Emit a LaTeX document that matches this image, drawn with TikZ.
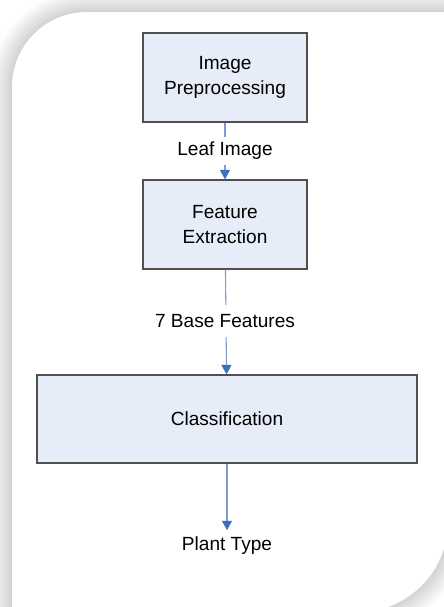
\documentclass[tikz,border=0pt]{standalone}
\usepackage{fontspec}
\setmainfont{Liberation Sans}
\usetikzlibrary{arrows.meta}
\definecolor{boxfill}{HTML}{E7EDF8}
\definecolor{boxline}{HTML}{505050}
\definecolor{flowline}{HTML}{7A9CD0}
\definecolor{flowtip}{HTML}{3E6FBF}
% outline of the white card (it runs out past the right and bottom edges)
\newcommand{\cardpath}{(12,640) -- (12,87) arc[start angle=180, end angle=270, radius=75] -- (470,12) -- (470,522) -- (448,522) arc[start angle=0, end angle=90, radius=90] -- (330,612) -- (330,640) -- cycle}
\begin{document}
\begin{tikzpicture}[x=0.75pt, y=-0.75pt,
    every node/.style={font=\fontsize{14.3}{18.8}\selectfont, align=center},
    mybox/.style={draw=boxline, fill=boxfill, line width=1.1pt, inner sep=0pt},
    myflow/.style={draw=flowline, line width=0.8pt, -{Triangle[width=7.5pt, length=7pt, color=flowtip]}},
    mylabel/.style={fill=white, inner sep=4pt}]
    \useasboundingbox (0,0) rectangle (443,607);
    \fill[white] (0,0) rectangle (443,607);
    % soft shadow round the card
    \foreach \w in {2,4,...,44}{
      \draw[black, opacity=0.009, line width=\w*0.75pt, line join=round] \cardpath;
    }
    \fill[white] \cardpath;

    \node[mybox, minimum width=164*0.75pt, minimum height=89*0.75pt] (prep) at (225,77.5) {Image\\Preprocessing};
    \node[mybox, minimum width=164*0.75pt, minimum height=89*0.75pt] (feat) at (225,224.5) {Feature\\Extraction};
    \node[mybox, minimum width=380*0.75pt, minimum height=88*0.75pt] (clas) at (227,419) {Classification};
    \node[inner sep=5pt] (type) at (227,546) {Plant Type};

    \draw[myflow] (prep) -- (feat);
    \node[mylabel] (leaf) at (225,151) {Leaf Image};
    \draw[myflow] (feat) -- (clas);
    \node[mylabel, inner sep=7pt] (base) at (225,321) {7 Base Features};
    \draw[myflow] (clas.south -| type) -- (type);
\end{tikzpicture}
\end{document}
